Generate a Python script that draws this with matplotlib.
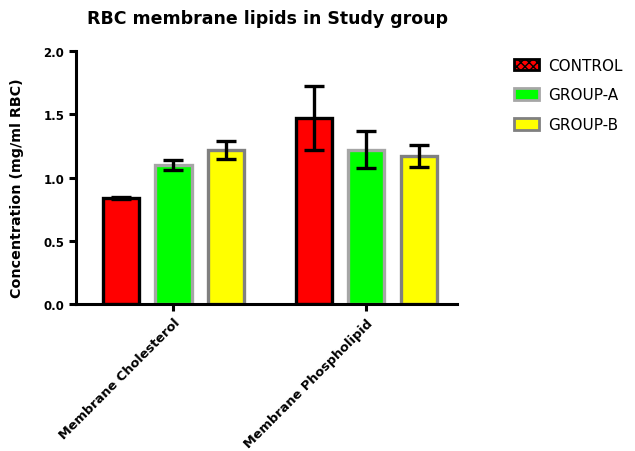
import matplotlib
matplotlib.use("Agg")
import matplotlib.pyplot as plt
from matplotlib.patches import Patch
import numpy as np

categories = ["Membrane Cholesterol", "Membrane Phospholipid"]
groups = ["CONTROL", "GROUP-A", "GROUP-B"]
means = {
    "CONTROL": [0.84, 1.47],
    "GROUP-A": [1.10, 1.22],
    "GROUP-B": [1.22, 1.17],
}
errors = {
    "CONTROL": [0.01, 0.255],
    "GROUP-A": [0.04, 0.145],
    "GROUP-B": [0.07, 0.09],
}
fills = {"CONTROL": "#ff0000", "GROUP-A": "#00ff00", "GROUP-B": "#ffff00"}
edges = {"CONTROL": "#000000", "GROUP-A": "#a6a6a6", "GROUP-B": "#808080"}
yticks = [0.0, 0.5, 1.0, 1.5, 2.0]

plt.rcParams['font.family'] = ['DejaVu Sans']
plt.rcParams['hatch.color'] = 'black'

fig = plt.figure(figsize=(6.35, 4.52), dpi=100)
ax = fig.add_axes([0.1197, 0.325, 0.60, 0.56])

x = np.arange(len(categories))
offset = 0.271
width = 0.1875
for i, g in enumerate(groups):
    pos = x + (i - 1) * offset
    ax.bar(pos, means[g], width=width, color=fills[g], edgecolor=edges[g],
           linewidth=2.4, zorder=2)
    ax.errorbar(pos, means[g], yerr=errors[g], fmt='none', ecolor='black',
                elinewidth=2.4, capsize=7.5, capthick=2.4, zorder=3)

ax.set_ylim(0, 2.0)
ax.set_xlim(-0.505, 1.47)
ax.set_yticks(yticks)
ax.set_yticklabels([f"{v:.1f}" for v in yticks], fontsize=8.5, fontweight='bold')
ax.set_xticks(x)
ax.set_xticklabels(categories, rotation=45, ha='right', rotation_mode='anchor',
                   fontsize=9.3, fontweight='bold')
for side in ['top', 'right']:
    ax.spines[side].set_visible(False)
for side in ['left', 'bottom']:
    ax.spines[side].set_linewidth(2.2)
ax.tick_params(axis='both', width=2.2, length=5)
ax.set_ylabel("Concentration (mg/ml RBC)", fontsize=10.3, fontweight='bold')
ax.yaxis.set_label_coords(-0.137, 0.46)

fig.text(0.421, 0.958, "RBC membrane lipids in Study group", ha='center', va='center',
         fontsize=12.5, fontweight='bold')

handles = [
    Patch(facecolor='#ff0000', edgecolor='black', hatch='xxxx', linewidth=2),
    Patch(facecolor='#00ff00', edgecolor='#a6a6a6', linewidth=2),
    Patch(facecolor='#ffff00', edgecolor='#808080', linewidth=2),
]
leg = fig.legend(handles, groups, loc='upper left', bbox_to_anchor=(0.788, 0.9),
                 frameon=False, fontsize=11, handlelength=1.6, handleheight=0.8,
                 labelspacing=0.95, handletextpad=0.6)

fig.savefig("out.png", dpi=100)
